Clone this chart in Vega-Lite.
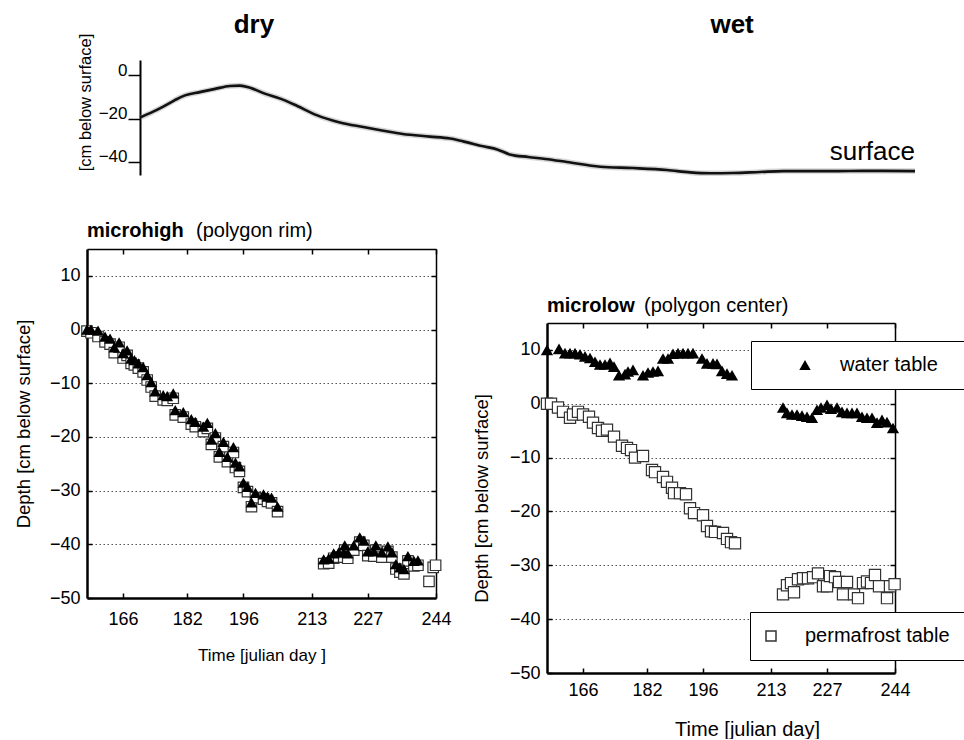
{
  "$schema": "https://vega.github.io/schema/vega-lite/v6.json",
  "padding": {"left": 14, "top": 12, "right": 0, "bottom": 0},
  "config": {
    "font": "Liberation Sans",
    "view": {"stroke": null},
    "axis": {"labelColor": "black", "titleColor": "black", "titleFontWeight": "normal", "domainColor": "black", "tickColor": "black", "labelFlush": false, "labelOverlap": false},
    "legend": {"labelColor": "black"}
  },
  "datasets": {
    "surface": [
      {"d": 0, "depth": -19.5}, {"d": 1.3, "depth": -17.5}, {"d": 3.0, "depth": -14.5}, {"d": 4.5, "depth": -11.5},
      {"d": 5.8, "depth": -9.3}, {"d": 7.7, "depth": -7.8}, {"d": 9.7, "depth": -6.3}, {"d": 11.6, "depth": -5.0},
      {"d": 12.9, "depth": -4.8}, {"d": 14.2, "depth": -5.8}, {"d": 16.1, "depth": -8.5}, {"d": 18.1, "depth": -10.8},
      {"d": 20.3, "depth": -14.2}, {"d": 22.8, "depth": -18.4}, {"d": 25.8, "depth": -21.8}, {"d": 28.8, "depth": -23.9},
      {"d": 31.4, "depth": -25.6}, {"d": 33.9, "depth": -27.1}, {"d": 37.4, "depth": -28.3}, {"d": 40.0, "depth": -29.2},
      {"d": 41.7, "depth": -30.5}, {"d": 44.3, "depth": -32.8}, {"d": 46.1, "depth": -34.2}, {"d": 47.7, "depth": -36.5},
      {"d": 50.1, "depth": -37.7}, {"d": 52.3, "depth": -38.6}, {"d": 55.1, "depth": -40.0}, {"d": 59.4, "depth": -42.2},
      {"d": 63.6, "depth": -42.8}, {"d": 68.0, "depth": -43.7}, {"d": 71.0, "depth": -44.8}, {"d": 73.6, "depth": -45.2},
      {"d": 76.5, "depth": -45.1}, {"d": 80.0, "depth": -44.6}, {"d": 83.0, "depth": -44.2}, {"d": 89.4, "depth": -44.2},
      {"d": 93.8, "depth": -44.1}, {"d": 100, "depth": -44.2}
    ],
    "mh_wt": [
      {"day": 157, "depth": 0}, {"day": 158, "depth": 0}, {"day": 159.75, "depth": -0.2}, {"day": 161.5, "depth": -1.3},
      {"day": 162.75, "depth": -1.7}, {"day": 163.8, "depth": -3.3}, {"day": 165, "depth": -2.4}, {"day": 166, "depth": -4.4},
      {"day": 167, "depth": -3.9}, {"day": 168, "depth": -5.4}, {"day": 168.8, "depth": -5.7}, {"day": 169.8, "depth": -6.3},
      {"day": 171, "depth": -7}, {"day": 172, "depth": -8.5}, {"day": 173, "depth": -9.8}, {"day": 174, "depth": -11.5},
      {"day": 176, "depth": -12.2}, {"day": 177, "depth": -12.4}, {"day": 178.5, "depth": -11.9}, {"day": 179, "depth": -15},
      {"day": 181, "depth": -15.4}, {"day": 183, "depth": -16.7}, {"day": 184, "depth": -17.2}, {"day": 186, "depth": -18.1},
      {"day": 187, "depth": -17.4}, {"day": 188, "depth": -20.5}, {"day": 189, "depth": -19.3}, {"day": 190, "depth": -22.8},
      {"day": 191, "depth": -20.9}, {"day": 192, "depth": -23.7}, {"day": 193.5, "depth": -21.9}, {"day": 194, "depth": -24.8},
      {"day": 195, "depth": -25.5}, {"day": 196, "depth": -28.5}, {"day": 197, "depth": -29.3}, {"day": 198, "depth": -32.2},
      {"day": 199, "depth": -30.4}, {"day": 201, "depth": -30.7}, {"day": 202, "depth": -31.1}, {"day": 203, "depth": -31.3},
      {"day": 204.5, "depth": -33},
      {"day": 216, "depth": -42.8}, {"day": 217.25, "depth": -42.6}, {"day": 218.5, "depth": -41.7}, {"day": 219.75, "depth": -41.5},
      {"day": 221, "depth": -41.5}, {"day": 221.25, "depth": -40.2}, {"day": 222, "depth": -41.7}, {"day": 223.5, "depth": -40.2},
      {"day": 225, "depth": -38.7}, {"day": 226, "depth": -39.3}, {"day": 227, "depth": -41.3}, {"day": 228.5, "depth": -41.3},
      {"day": 229, "depth": -40.2}, {"day": 230.5, "depth": -41.5}, {"day": 232, "depth": -40.4}, {"day": 233, "depth": -41.5},
      {"day": 234, "depth": -43.7}, {"day": 235, "depth": -44.3}, {"day": 236, "depth": -44.6}, {"day": 237, "depth": -42.2},
      {"day": 238.5, "depth": -43.1}, {"day": 239.5, "depth": -43}
    ],
    "mh_pf": [
      {"day": 157, "depth": -0.3}, {"day": 158, "depth": -0.6}, {"day": 159.75, "depth": -1.3}, {"day": 161.5, "depth": -2.3},
      {"day": 162.75, "depth": -2.7}, {"day": 163.8, "depth": -4.3}, {"day": 165, "depth": -3.3}, {"day": 166, "depth": -5.3},
      {"day": 167, "depth": -4.8}, {"day": 168, "depth": -6.3}, {"day": 168.8, "depth": -6.6}, {"day": 169.8, "depth": -7.2},
      {"day": 171, "depth": -7.9}, {"day": 172, "depth": -9.4}, {"day": 173, "depth": -10.7}, {"day": 174, "depth": -12.4},
      {"day": 176, "depth": -13.1}, {"day": 177, "depth": -13.2}, {"day": 178.5, "depth": -12.8}, {"day": 179, "depth": -15.9},
      {"day": 181, "depth": -16.3}, {"day": 183, "depth": -17.6}, {"day": 184, "depth": -18.1}, {"day": 186, "depth": -19},
      {"day": 187, "depth": -18.4}, {"day": 188, "depth": -21.4}, {"day": 189, "depth": -20.2}, {"day": 190, "depth": -23.7},
      {"day": 191, "depth": -21.8}, {"day": 192, "depth": -24.6}, {"day": 193.5, "depth": -22.9}, {"day": 194, "depth": -25.7},
      {"day": 195, "depth": -26.4}, {"day": 196, "depth": -29.4}, {"day": 197, "depth": -30.2}, {"day": 198, "depth": -33},
      {"day": 199, "depth": -31.3}, {"day": 201, "depth": -31.6}, {"day": 202, "depth": -32}, {"day": 203, "depth": -32.3},
      {"day": 204.5, "depth": -33.9},
      {"day": 216, "depth": -43.6}, {"day": 217.25, "depth": -43.5}, {"day": 218.5, "depth": -42.6}, {"day": 219.75, "depth": -42.4},
      {"day": 221, "depth": -42.4}, {"day": 221.25, "depth": -41.1}, {"day": 222, "depth": -42.6}, {"day": 223.5, "depth": -41.1},
      {"day": 225, "depth": -39.6}, {"day": 226, "depth": -40.2}, {"day": 227, "depth": -42.1}, {"day": 228.5, "depth": -42.2},
      {"day": 229, "depth": -41.1}, {"day": 230.5, "depth": -42.4}, {"day": 232, "depth": -41.3}, {"day": 233, "depth": -42.4},
      {"day": 234, "depth": -44.6}, {"day": 235, "depth": -45.2}, {"day": 236, "depth": -45.5}, {"day": 237, "depth": -43.1},
      {"day": 238.5, "depth": -44}, {"day": 239.5, "depth": -43.9},
      {"day": 242.25, "depth": -46.9}, {"day": 243.3, "depth": -44.3}, {"day": 243.9, "depth": -43.9}
    ],
    "ml_wt": [
      {"day": 157, "depth": 10}, {"day": 160, "depth": 10.2}, {"day": 161.5, "depth": 9.4}, {"day": 162.75, "depth": 9.4},
      {"day": 164, "depth": 9.4}, {"day": 165.25, "depth": 9.2}, {"day": 166.5, "depth": 8.8}, {"day": 167.75, "depth": 8.5},
      {"day": 169, "depth": 7.8}, {"day": 170.25, "depth": 7.3}, {"day": 171.5, "depth": 7.3}, {"day": 172.75, "depth": 7.6},
      {"day": 173.75, "depth": 6.9}, {"day": 175, "depth": 5.3}, {"day": 176.5, "depth": 5.5}, {"day": 177.25, "depth": 6},
      {"day": 178.5, "depth": 6.3}, {"day": 181, "depth": 5.3}, {"day": 182.25, "depth": 5.8}, {"day": 183.5, "depth": 6},
      {"day": 184.75, "depth": 6.1}, {"day": 186, "depth": 8.4}, {"day": 187.25, "depth": 8.4}, {"day": 188.5, "depth": 9.3},
      {"day": 189.75, "depth": 9.4}, {"day": 191, "depth": 9.4}, {"day": 192.25, "depth": 9.4}, {"day": 193.5, "depth": 9.4},
      {"day": 195.75, "depth": 8.4}, {"day": 197, "depth": 7.5}, {"day": 198.5, "depth": 7.5}, {"day": 199.5, "depth": 7.4},
      {"day": 200.75, "depth": 6.1}, {"day": 202, "depth": 5.6}, {"day": 203.25, "depth": 5.3},
      {"day": 216, "depth": -0.7}, {"day": 217, "depth": -1.7}, {"day": 218.25, "depth": -2}, {"day": 219.5, "depth": -2},
      {"day": 220.75, "depth": -2.2}, {"day": 222, "depth": -2.4}, {"day": 223.25, "depth": -2.6}, {"day": 224.5, "depth": -1.1},
      {"day": 225.5, "depth": -0.7}, {"day": 227, "depth": -0.2}, {"day": 228, "depth": -0.9}, {"day": 229.5, "depth": -0.7},
      {"day": 230.75, "depth": -1.5}, {"day": 232, "depth": -1.7}, {"day": 233.25, "depth": -1.7}, {"day": 234.5, "depth": -1.7},
      {"day": 235.75, "depth": -2.4}, {"day": 237, "depth": -2.6}, {"day": 238.25, "depth": -2.6}, {"day": 239.5, "depth": -3.5},
      {"day": 240.75, "depth": -3}, {"day": 242, "depth": -3.4}, {"day": 243.5, "depth": -4.5}
    ],
    "ml_pf": [
      {"day": 157, "depth": 0}, {"day": 158, "depth": 0}, {"day": 159.75, "depth": -0.7}, {"day": 161, "depth": -1.5},
      {"day": 162.75, "depth": -2.6}, {"day": 163.5, "depth": -2}, {"day": 164.75, "depth": -1.5}, {"day": 166, "depth": -2},
      {"day": 167.5, "depth": -2.4}, {"day": 168.5, "depth": -3.5}, {"day": 169.75, "depth": -4.5}, {"day": 170.75, "depth": -5},
      {"day": 172, "depth": -4.8}, {"day": 173.75, "depth": -6.1}, {"day": 175.75, "depth": -7.8}, {"day": 177, "depth": -8.2},
      {"day": 178, "depth": -8.6}, {"day": 179, "depth": -10}, {"day": 181, "depth": -9.7}, {"day": 183.25, "depth": -12.3},
      {"day": 184, "depth": -12.7}, {"day": 186, "depth": -13.6}, {"day": 187, "depth": -14.5}, {"day": 188.25, "depth": -15.6},
      {"day": 188.75, "depth": -16.6}, {"day": 190.25, "depth": -16.6}, {"day": 191.75, "depth": -16.8}, {"day": 192.75, "depth": -19.4},
      {"day": 193.75, "depth": -20.3}, {"day": 196, "depth": -20.7}, {"day": 197, "depth": -22.7}, {"day": 198, "depth": -23.7},
      {"day": 199, "depth": -23.8}, {"day": 201, "depth": -24}, {"day": 202, "depth": -25.1}, {"day": 203, "depth": -25.7},
      {"day": 204, "depth": -25.9},
      {"day": 216, "depth": -35.4}, {"day": 217, "depth": -33.7}, {"day": 218, "depth": -33.3}, {"day": 218.75, "depth": -35},
      {"day": 219.75, "depth": -32.6}, {"day": 221, "depth": -32.4}, {"day": 222.25, "depth": -32.4}, {"day": 223.5, "depth": -32.2},
      {"day": 224.75, "depth": -31.5}, {"day": 226, "depth": -33.9}, {"day": 227, "depth": -33.9}, {"day": 227.75, "depth": -32},
      {"day": 229, "depth": -32.2}, {"day": 230, "depth": -33.1}, {"day": 231, "depth": -35.4}, {"day": 232, "depth": -33.1},
      {"day": 233.75, "depth": -35.4}, {"day": 234.75, "depth": -36.1}, {"day": 236, "depth": -33.3}, {"day": 237, "depth": -33},
      {"day": 238, "depth": -33.3}, {"day": 239, "depth": -31.8}, {"day": 240, "depth": -33.9}, {"day": 242, "depth": -36.1},
      {"day": 242.75, "depth": -33.9}, {"day": 243.9, "depth": -33.5}
    ]
  },
  "spacing": 36,
  "vconcat": [
    {
      "spacing": -12,
      "hconcat": [
        {"width": 2, "height": 10, "data": {"values": [{}]}, "mark": {"type": "text"}, "encoding": {}},
        {
          "width": 775, "height": 115,
          "layer": [
            {
              "data": {"name": "surface"},
              "mark": {"type": "line", "color": "#888", "strokeWidth": 5.5, "opacity": 0.35, "interpolate": "monotone"},
              "encoding": {
                "x": {"field": "d", "type": "quantitative", "scale": {"domain": [0, 100], "nice": false, "zero": false}, "axis": null},
                "y": {"field": "depth", "type": "quantitative", "scale": {"domain": [-46, 7], "nice": false, "zero": false},
                  "axis": {"values": [0, -20, -40], "tickSize": 12, "tickWidth": 1.5, "domainWidth": 2, "labelPadding": 1, "labelBaseline": "alphabetic", "labelFontSize": 17, "grid": false,
                    "title": "[cm below surface]", "titleFontSize": 16.5, "titlePadding": 5, "titleY": 42}}
              }
            },
            {
              "data": {"name": "surface"},
              "mark": {"type": "line", "color": "#111", "strokeWidth": 2.6, "interpolate": "monotone"},
              "encoding": {
                "x": {"field": "d", "type": "quantitative"},
                "y": {"field": "depth", "type": "quantitative"}
              }
            },
            {
              "data": {"values": [{"label": "dry", "d": 14.7}, {"label": "wet", "d": 76.4}]},
              "mark": {"type": "text", "fontSize": 26, "fontWeight": "bold", "align": "center", "baseline": "alphabetic", "dy": -27, "color": "black"},
              "encoding": {
                "x": {"field": "d", "type": "quantitative"},
                "y": {"datum": 7, "type": "quantitative"},
                "text": {"field": "label"}
              }
            },
            {
              "data": {"values": [{"label": "surface", "d": 100, "depth": -39.1}]},
              "mark": {"type": "text", "fontSize": 26, "align": "right", "baseline": "alphabetic", "color": "black"},
              "encoding": {
                "x": {"field": "d", "type": "quantitative"},
                "y": {"field": "depth", "type": "quantitative"},
                "text": {"field": "label"}
              }
            }
          ]
        }
      ]
    },
    {
      "spacing": 20,
      "hconcat": [
        {
          "width": 349, "height": 349,
          "layer": [
            {
              "data": {"name": "mh_pf"},
              "mark": {"type": "point", "shape": "square", "filled": true, "fill": "white", "stroke": "#333", "strokeWidth": 1.2, "size": 110, "opacity": 1},
              "encoding": {
                "x": {"field": "day", "type": "quantitative", "scale": {"domain": [157, 244], "nice": false, "zero": false},
                  "axis": {"orient": "bottom", "values": [166, 182, 196, 213, 227, 244], "title": "Time [julian day ]", "titleFontSize": 17, "titlePadding": 19, "labelFontSize": 18, "labelPadding": 17, "tickSize": -5, "tickWidth": 1.5, "domainWidth": 2.5, "grid": false}},
                "y": {"field": "depth", "type": "quantitative", "scale": {"domain": [-50, 15], "nice": false, "zero": false},
                  "axis": {"orient": "left", "values": [-50, -40, -30, -20, -10, 0, 10], "title": "Depth [cm below surface]", "titleFontSize": 18.5, "titlePadding": 16, "labelFontSize": 18, "labelPadding": 12, "tickSize": -5, "tickWidth": 1.5, "domainWidth": 2.5,
                    "grid": true, "gridDash": [1.5, 2.5], "gridColor": "#555", "gridWidth": 1}}
              }
            },
            {
              "data": {"name": "mh_wt"},
              "mark": {"type": "point", "shape": "triangle-up", "filled": true, "color": "black", "size": 140, "opacity": 1},
              "encoding": {
                "x": {"field": "day", "type": "quantitative", "scale": {"domain": [157, 244], "nice": false, "zero": false},
                  "axis": {"orient": "top", "labels": false, "title": null, "values": [166, 182, 196, 213, 227, 244], "tickSize": -5, "tickWidth": 1.5, "domainWidth": 1.5, "grid": false}},
                "y": {"field": "depth", "type": "quantitative", "scale": {"domain": [-50, 15], "nice": false, "zero": false},
                  "axis": {"orient": "right", "labels": false, "title": null, "values": [-40, -30, -20, -10, 0, 10], "tickSize": -5, "tickWidth": 1.5, "domainWidth": 1.5, "grid": false}}
              }
            },
            {
              "data": {"values": [{"t": "microhigh"}]},
              "mark": {"type": "text", "fontSize": 20, "fontWeight": "bold", "align": "left", "baseline": "alphabetic", "dy": -12, "color": "black"},
              "encoding": {
                "x": {"datum": 157, "type": "quantitative", "axis": null},
                "y": {"datum": 15, "type": "quantitative", "axis": null},
                "text": {"field": "t"}
              }
            },
            {
              "data": {"values": [{"t": "(polygon rim)"}]},
              "mark": {"type": "text", "fontSize": 20, "align": "left", "baseline": "alphabetic", "dy": -12, "dx": 109, "color": "black"},
              "encoding": {
                "x": {"datum": 157, "type": "quantitative", "axis": null},
                "y": {"datum": 15, "type": "quantitative", "axis": null},
                "text": {"field": "t"}
              }
            }
          ],
          "resolve": {"axis": {"x": "independent", "y": "independent"}}
        },
        {
          "spacing": 0,
          "vconcat": [
            {"width": 10, "height": 47, "data": {"values": [{}]}, "mark": {"type": "text"}, "encoding": {}},
            {
              "width": 348, "height": 350,
              "layer": [
                {
                  "data": {"name": "ml_pf"},
                  "mark": {"type": "point", "filled": true, "fill": "white", "stroke": "#333", "strokeWidth": 1.2, "size": 125, "opacity": 1},
                  "encoding": {
                    "x": {"field": "day", "type": "quantitative", "scale": {"domain": [157, 244], "nice": false, "zero": false},
                      "axis": {"orient": "bottom", "values": [166, 182, 196, 213, 227, 244], "title": "Time [julian day]", "titleFontSize": 20, "titlePadding": 20, "titleX": 200, "labelFontSize": 18, "labelPadding": 13, "tickSize": -5, "tickWidth": 1.5, "domainWidth": 2.5, "grid": false}},
                    "y": {"field": "depth", "type": "quantitative", "scale": {"domain": [-50, 15], "nice": false, "zero": false},
                      "axis": {"orient": "left", "values": [-50, -40, -30, -20, -10, 0, 10], "title": "Depth [cm below surface]", "titleFontSize": 18.5, "titlePadding": 18, "labelFontSize": 18, "labelPadding": 12, "tickSize": -5, "tickWidth": 1.5, "domainWidth": 2.5,
                        "grid": true, "gridDash": [1.5, 2.5], "gridColor": "#555", "gridWidth": 1}},
                    "shape": {"datum": "permafrost table", "type": "nominal", "scale": {"range": ["square"]},
                      "legend": {"orient": "none", "legendX": 203, "legendY": 289, "title": null, "padding": 14, "strokeColor": "black", "fillColor": "white",
                        "labelFontSize": 20, "symbolSize": 100, "symbolOffset": -3, "labelOffset": 24,
                        "encode": {"symbols": {"update": {"fill": {"value": "white"}, "stroke": {"value": "#333"}, "strokeWidth": {"value": 1.3}, "opacity": {"value": 1}}}}}}
                  }
                },
                {
                  "data": {"name": "ml_wt"},
                  "mark": {"type": "point", "filled": true, "color": "black", "size": 150, "opacity": 1},
                  "encoding": {
                    "x": {"field": "day", "type": "quantitative", "scale": {"domain": [157, 244], "nice": false, "zero": false},
                      "axis": {"orient": "top", "labels": false, "title": null, "values": [166, 182, 196, 213, 227, 244], "tickSize": -5, "tickWidth": 1.5, "domainWidth": 1.5, "grid": false}},
                    "y": {"field": "depth", "type": "quantitative", "scale": {"domain": [-50, 15], "nice": false, "zero": false},
                      "axis": {"orient": "right", "labels": false, "title": null, "values": [-40, -30, -20, -10, 0, 10], "tickSize": -5, "tickWidth": 1.5, "domainWidth": 1.5, "grid": false}},
                    "shape": {"datum": "water table", "type": "nominal", "scale": {"range": ["triangle-up"]},
                      "legend": {"orient": "none", "legendX": 204, "legendY": 18, "title": "x", "titleOrient": "right", "titleColor": "white", "titleFontSize": 20, "titlePadding": 2, "padding": 14, "strokeColor": "black", "fillColor": "white",
                        "labelFontSize": 20, "symbolSize": 130, "symbolOffset": 30, "labelOffset": 25,
                        "encode": {"symbols": {"update": {"fill": {"value": "black"}, "stroke": {"value": "black"}, "opacity": {"value": 1}}}}}}
                  }
                },
                {
                  "data": {"values": [{"t": "microlow"}]},
                  "mark": {"type": "text", "fontSize": 20, "fontWeight": "bold", "align": "left", "baseline": "alphabetic", "dy": -11, "color": "black"},
                  "encoding": {
                    "x": {"datum": 157, "type": "quantitative", "axis": null},
                    "y": {"datum": 15, "type": "quantitative", "axis": null},
                    "text": {"field": "t"}
                  }
                },
                {
                  "data": {"values": [{"t": "(polygon center)"}]},
                  "mark": {"type": "text", "fontSize": 20, "align": "left", "baseline": "alphabetic", "dy": -11, "dx": 97, "color": "black"},
                  "encoding": {
                    "x": {"datum": 157, "type": "quantitative", "axis": null},
                    "y": {"datum": 15, "type": "quantitative", "axis": null},
                    "text": {"field": "t"}
                  }
                }
              ],
              "resolve": {"scale": {"shape": "independent"}, "axis": {"x": "independent", "y": "independent"}}
            }
          ]
        }
      ]
    }
  ]
}
